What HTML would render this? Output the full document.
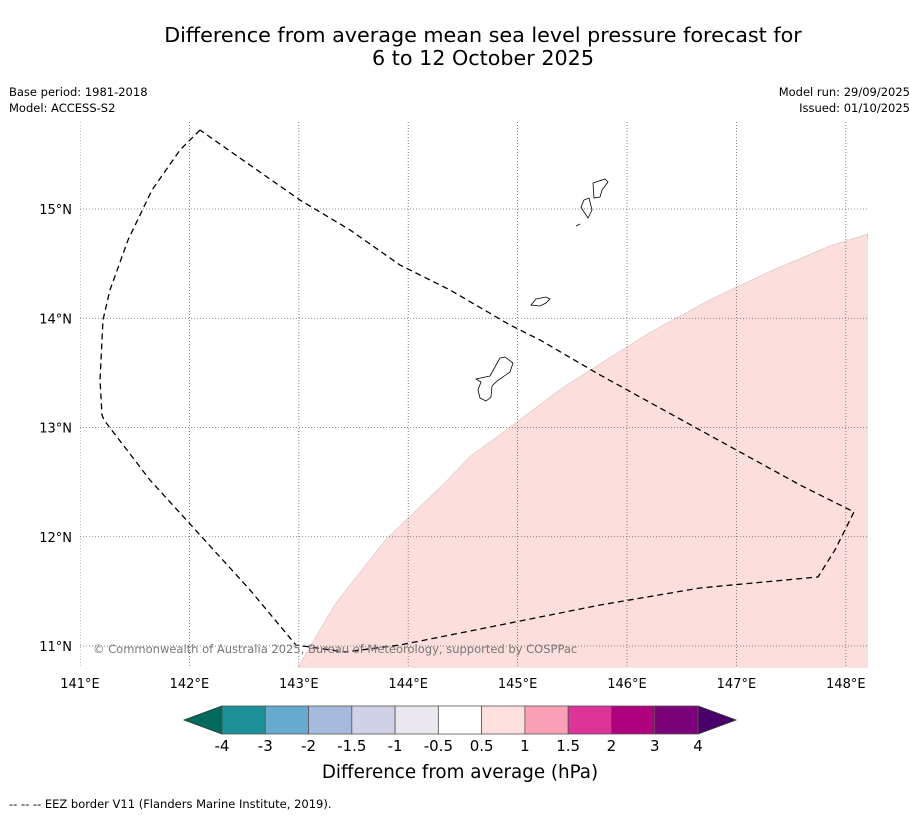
<!DOCTYPE html>
<html><head><meta charset="utf-8"><style>
body{margin:0;background:#fff;font-family:"DejaVu Sans","Liberation Sans",sans-serif;}
svg{display:block}
</style></head><body>
<svg id="chart" width="919" height="816" xmlns="http://www.w3.org/2000/svg" font-family="DejaVu Sans, Liberation Sans, sans-serif">
<text x="483" y="42" text-anchor="middle" font-size="20.7" fill="#000">Difference from average mean sea level pressure forecast for</text>
<text x="483" y="65" text-anchor="middle" font-size="20.7" fill="#000">6 to 12 October 2025</text>
<text x="9" y="96" font-size="11.5">Base period: 1981-2018</text>
<text x="9" y="112" font-size="11.5">Model: ACCESS-S2</text>
<text x="910" y="96" font-size="11.5" text-anchor="end">Model run: 29/09/2025</text>
<text x="910" y="112" font-size="11.5" text-anchor="end">Issued: 01/10/2025</text>
<defs><clipPath id="pc"><rect x="80" y="122" width="788" height="546"/></clipPath></defs>
<g id="plot" clip-path="url(#pc)"></g>
<g id="axes"></g>
<text x="93" y="653" font-size="11.5" fill="#777">© Commonwealth of Australia 2025, Bureau of Meteorology, supported by COSPPac</text>
<g id="cbar"></g>
<text x="460" y="778" text-anchor="middle" font-size="18.3">Difference from average (hPa)</text>
<text x="9" y="808" font-size="11.5">--  --  -- EEZ border V11 (Flanders Marine Institute, 2019).</text>
</svg>
<script>
const lonTicks=[141,142,143,144,145,146,147,148];
const latTicks=[11,12,13,14,15];
const eezLon=[142.097,141.914,141.658,141.439,141.274,141.210,141.183,141.201,141.219,141.640,142.097,142.554,142.974,143.422,143.925,144.839,145.753,146.667,147.746,147.901,148.075,147.581,146.667,145.753,145.205,144.931,144.382,143.925,143.468,143.011,142.554,142.097];
const eezLat=[15.723,15.540,15.174,14.716,14.259,13.984,13.435,13.114,13.069,12.519,12.016,11.513,11.009,10.945,11.009,11.192,11.375,11.531,11.632,11.879,12.227,12.474,12.977,13.481,13.801,13.938,14.259,14.487,14.808,15.082,15.402,15.723];
const anomLon=[142.99,143.33,143.79,144.34,144.56,144.98,145.39,145.75,146.21,146.76,147.31,147.85,148.20];
const anomLat=[10.80,11.38,11.97,12.50,12.73,13.04,13.35,13.58,13.87,14.17,14.43,14.66,14.77];
const cbLabels=["-4","-3","-2","-1.5","-1","-0.5","0.5","1","1.5","2","3","4"];
const cbColors=["#1b9097","#67aad0","#a6badb","#d0d1e6","#eae8ee","#ffffff","#fddfde","#fa9fb5","#dd3497","#ae017e","#7a0177"];
const X=l=>80+(l-141)*109.4, Y=l=>646-(l-11)*109.25;
const NS="http://www.w3.org/2000/svg";
function mk(t,a,p){const e=document.createElementNS(NS,t);for(const k in a)e.setAttribute(k,a[k]);p.appendChild(e);return e;}
const plot=document.getElementById('plot'),axes=document.getElementById('axes'),cb=document.getElementById('cbar');
let d="M"+anomLon.map((l,i)=>X(l)+","+Y(anomLat[i])).join(" L")+" L900,700 L290,700 Z";
const f=mk('path',{d:d,fill:"#fcdedd",stroke:"#c8b0b0","stroke-width":0.5},plot);


lonTicks.forEach(l=>{const g=mk('line',{x1:X(l),x2:X(l),y1:122,y2:668,stroke:"#666","stroke-dasharray":"1,2","stroke-width":0.8},plot);


const t=mk('text',{x:X(l),y:688,"text-anchor":"middle","font-size":13},axes);t.textContent=l+"°E";

});
latTicks.forEach(l=>{const g=mk('line',{x1:80,x2:868,y1:Y(l),y2:Y(l),stroke:"#666","stroke-dasharray":"1,2","stroke-width":0.8},plot);


const t=mk('text',{x:72,y:Y(l)+5,"text-anchor":"end","font-size":13},axes);t.textContent=l+"°N";

});
const isl=["M476,379 L490,376 L500,358 L505,357 L513,363 L510,372 L497,381 L492,386 L491,397 L486,401 L480,398 L478,390 L481,382 Z",
"M531,305 L536,299 L546,297 L550,299 L546,303 L540,306 Z",
"M584,200 L589,198 L592,210 L588,218 L584,212 L581,207 Z",
"M593,183 L605,179 L608,182 L602,190 L600,197 L594,198 Z",
"M576,226 L580,224"];
isl.forEach(p=>{const e=mk('path',{d:p,fill:"none",stroke:"#000","stroke-width":0.8},plot);

});
const ez=mk('path',{d:"M"+eezLon.map((l,i)=>X(l)+","+Y(eezLat[i])).join(" L"),fill:"none",stroke:"#000","stroke-width":1.3,"stroke-dasharray":"6,4"},plot);


const x0=222,w=(698-222)/cbColors.length,y0=706,h=28;
const lt=mk('polygon',{points:`184,${y0+h/2} ${x0},${y0} ${x0},${y0+h}`,fill:"#02695c",stroke:"#333","stroke-width":0.8},cb);


const rt=mk('polygon',{points:`736,${y0+h/2} 698,${y0} 698,${y0+h}`,fill:"#49006a",stroke:"#333","stroke-width":0.8},cb);


cbColors.forEach((c,i)=>{const r=mk('rect',{x:x0+i*w,y:y0,width:w,height:h,fill:c,stroke:"#555","stroke-width":0.8},cb);

});
cbLabels.forEach((s,i)=>{const t=mk('text',{x:x0+i*w,y:751,"text-anchor":"middle","font-size":15},cb);t.textContent=s;

});
</script>
</body></html>
